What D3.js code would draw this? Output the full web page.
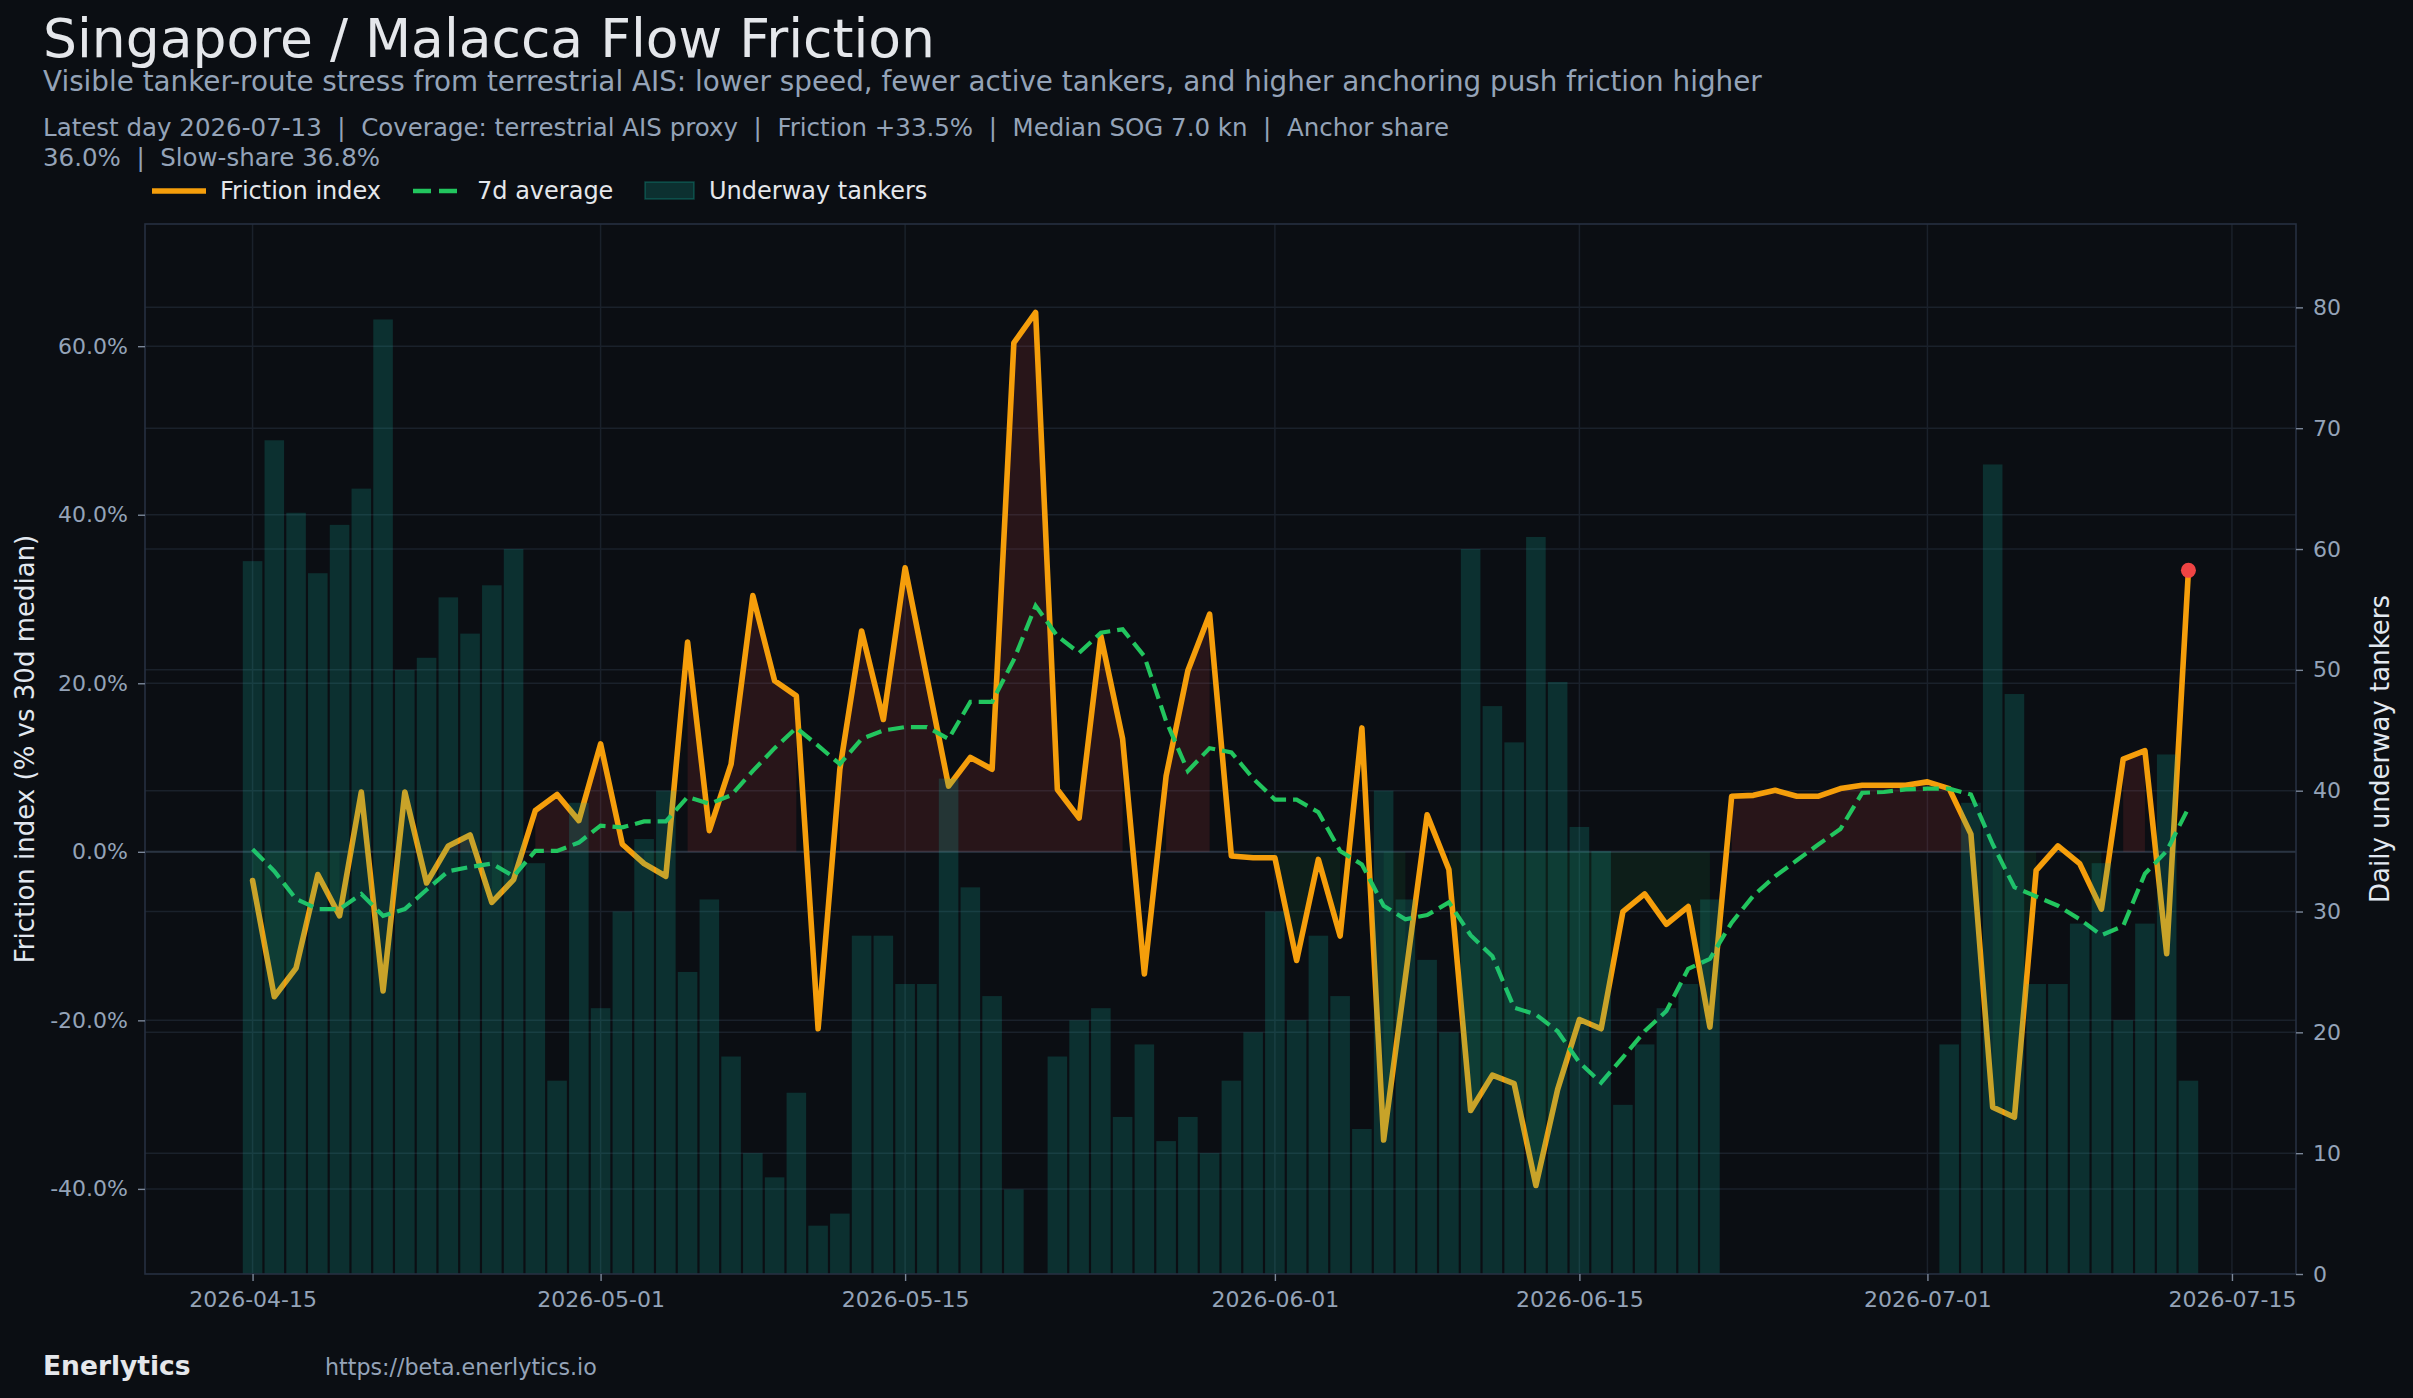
<!DOCTYPE html>
<html><head><meta charset="utf-8">
<script src="https://cdn.jsdelivr.net/npm/d3@7"></script>
<style>
html,body{margin:0;padding:0;background:#0b0e13;}
svg{display:block;}
text{font-family:"DejaVu Sans",sans-serif;}
</style></head><body>
<svg id="chart" width="2413" height="1398"></svg>
<script>
// ---------------- DATA ----------------
const startDate = "2026-04-15";
const endDate = "2026-07-13";
// Friction index, % vs 30d median (one value per day)
const friction = [
  -3.4, -17.2, -13.8, -2.7, -7.6, 7.1, -16.5, 7.1, -3.7, 0.7,
  2.0, -6.0, -3.3, 4.9, 6.8, 3.7, 12.8, 0.9, -1.4, -2.9,
  24.9, 2.5, 10.4, 30.4, 20.3, 18.5, -21.0, 9.8, 26.2, 15.7,
  33.7, 20.7, 7.8, 11.2, 9.8, 60.4, 64.0, 7.4, 4.0, 25.6,
  13.4, -14.5, 9.0, 21.5, 28.2, -0.5, -0.7, -0.7, -12.9, -0.9,
  -10.0, 14.7, -34.2, -14.9, 4.4, -2.1, -30.7, -26.5, -27.5, -39.6,
  -28.2, -19.9, -21.0, -7.1, -5.0, -8.6, -6.5, -20.8, 6.6, 6.7,
  7.3, 6.6, 6.6, 7.5, 7.9, 7.9, 7.9, 8.3, 7.5, 2.1,
  -30.3, -31.5, -2.2, 0.7, -1.4, -6.8, 11.0, 12.0, -12.1, 33.4
];
// 7-day average of friction
const avg7 = [
  0.3, -2.3, -5.6, -6.8, -6.8, -5.0, -7.6, -6.8, -4.5, -2.3,
  -1.8, -1.4, -2.9, 0.1, 0.1, 1.1, 3.1, 2.9, 3.6, 3.6,
  6.5, 5.7, 6.7, 9.6, 12.3, 14.7, 12.6, 10.4, 13.4, 14.4,
  14.8, 14.8, 13.4, 17.8, 17.8, 22.8, 29.2, 25.6, 23.6, 26.0,
  26.4, 23.2, 15.5, 9.6, 12.3, 11.8, 8.7, 6.2, 6.2, 4.7,
  0.1, -1.5, -6.4, -8.0, -7.5, -6.0, -9.9, -12.4, -18.5, -19.3,
  -21.3, -25.0, -27.4, -24.4, -21.3, -18.9, -13.9, -12.7, -8.4, -5.2,
  -2.9, -1.0, 0.9, 2.7, 7.0, 7.1, 7.4, 7.5, 7.5, 6.8,
  0.9, -4.2, -5.3, -6.4, -8.0, -9.9, -8.8, -2.6, 0.1, 5.2
];
// Daily underway tankers (null = no data)
const tankers = [
  59, 69, 63, 58, 62, 65, 79, 50, 51, 56,
  53, 57, 60, 34, 16, 39, 22, 30, 36, 40,
  25, 31, 18, 10, 8, 15, 4, 5, 28, 28,
  24, 24, 41, 32, 23, 7, null, 18, 21, 22,
  13, 19, 11, 13, 10, 16, 20, 30, 21, 28,
  23, 12, 40, 31, 26, 20, 60, 47, 44, 61,
  49, 37, 35, 14, 19, 22, 24, 31, null, null,
  null, null, null, null, null, null, null, null, 19, 39,
  67, 48, 24, 24, 29, 34, 21, 29, 43, 16
];
const xTickLabels = ["2026-04-15","2026-05-01","2026-05-15","2026-06-01","2026-06-15","2026-07-01","2026-07-15"];
const leftTicks = [-40, -20, 0, 20, 40, 60];
const rightTicks = [0, 10, 20, 30, 40, 50, 60, 70, 80];

const titleText = "Singapore / Malacca Flow Friction";
const subtitleText = "Visible tanker-route stress from terrestrial AIS: lower speed, fewer active tankers, and higher anchoring push friction higher";
const infoLines = [
  "Latest day 2026-07-13  |  Coverage: terrestrial AIS proxy  |  Friction +33.5%  |  Median SOG 7.0 kn  |  Anchor share",
  "36.0%  |  Slow-share 36.8%"
];
const legendLabels = ["Friction index", "7d average", "Underway tankers"];

// ---------------- CHART ----------------
const W = 2413, H = 1398;
const L = 145, R = 2296, T = 224, B = 1274;
const DAY = 864e5;
const parse = d3.utcParse("%Y-%m-%d");
const d0 = parse(startDate);
const dates = d3.utcDay.range(d0, d3.utcDay.offset(parse(endDate), 1));
const rows = dates.map((d, i) => ({date: d, f: friction[i], a: avg7[i], t: tankers[i]}));

const x = d3.scaleUtc()
  .domain([new Date(+d0 - 4.945 * DAY), new Date(+d0 + 93.945 * DAY)])
  .range([L, R]);
const yL = d3.scaleLinear().domain([-50.1, 74.5]).range([B, T]);
const yR = d3.scaleLinear().domain([0, 86.9]).range([B, T]);

const svg = d3.select("#chart");
svg.append("rect").attr("width", W).attr("height", H).attr("fill", "#0b0e13");

const gridColor = "#1a212b";
const xTickDates = xTickLabels.map(parse);

// grid
const grid = svg.append("g");
grid.selectAll(".vg").data(xTickDates).join("line")
  .attr("x1", d => x(d)).attr("x2", d => x(d)).attr("y1", T).attr("y2", B)
  .attr("stroke", gridColor).attr("stroke-width", 1.5);
grid.selectAll(".hgl").data(leftTicks).join("line")
  .attr("x1", L).attr("x2", R).attr("y1", d => yL(d)).attr("y2", d => yL(d))
  .attr("stroke", gridColor).attr("stroke-width", 1.5);
grid.selectAll(".hgr").data(rightTicks.filter(v => v > 0)).join("line")
  .attr("x1", L).attr("x2", R).attr("y1", d => yR(d)).attr("y2", d => yR(d))
  .attr("stroke", gridColor).attr("stroke-width", 1.5);

// zero line
svg.append("line").attr("x1", L).attr("x2", R).attr("y1", yL(0)).attr("y2", yL(0))
  .attr("stroke", "#2a3442").attr("stroke-width", 2);

// fills
const areaPos = d3.area().defined(d => d.f >= 0)
  .x(d => x(d.date)).y0(yL(0)).y1(d => yL(d.f));
const areaNeg = d3.area().defined(d => d.f < 0)
  .x(d => x(d.date)).y0(yL(0)).y1(d => yL(d.f));
svg.append("path").datum(rows).attr("d", areaPos).attr("fill", "rgba(239,68,68,0.13)");
svg.append("path").datum(rows).attr("d", areaNeg).attr("fill", "rgba(34,197,94,0.09)");

// lines
const lineF = d3.line().x(d => x(d.date)).y(d => yL(d.f));
const lineA = d3.line().x(d => x(d.date)).y(d => yL(d.a));
svg.append("path").datum(rows).attr("d", lineF).attr("fill", "none")
  .attr("stroke", "#f59e0b").attr("stroke-width", 5.6)
  .attr("stroke-linejoin", "round").attr("stroke-linecap", "round");
svg.append("path").datum(rows).attr("d", lineA).attr("fill", "none")
  .attr("stroke", "#22c55e").attr("stroke-width", 4.2)
  .attr("stroke-dasharray", "16,7");
const last = rows[rows.length - 1];
svg.append("circle").attr("cx", x(last.date)).attr("cy", yL(last.f)).attr("r", 7.5)
  .attr("fill", "#ef4444");

// bars (twin axis, on top, translucent)
const barW = x(new Date(+d0 + 0.9 * DAY)) - x(d0);
svg.append("g").selectAll("rect").data(rows.filter(d => d.t != null)).join("rect")
  .attr("x", d => x(d.date) - barW / 2)
  .attr("width", barW)
  .attr("y", d => yR(d.t))
  .attr("height", d => yR(0) - yR(d.t))
  .attr("fill", "rgba(20,184,166,0.2)");

// spines
svg.append("rect").attr("x", L).attr("y", T).attr("width", R - L).attr("height", B - T)
  .attr("fill", "none").attr("stroke", "#263041").attr("stroke-width", 1.6);

// axes
const tickColor = "#94a3b8";
const gx = svg.append("g").attr("transform", `translate(0,${B})`)
  .call(d3.axisBottom(x).tickValues(xTickDates).tickFormat(d3.utcFormat("%Y-%m-%d")).tickSize(7).tickPadding(10));
const gl = svg.append("g").attr("transform", `translate(${L},0)`)
  .call(d3.axisLeft(yL).tickValues(leftTicks).tickFormat(d => d.toFixed(1) + "%").tickSize(7).tickPadding(10));
const gr = svg.append("g").attr("transform", `translate(${R},0)`)
  .call(d3.axisRight(yR).tickValues(rightTicks).tickFormat(d3.format("d")).tickSize(7).tickPadding(10));
[gx, gl, gr].forEach(g => {
  g.select(".domain").remove();
  g.selectAll(".tick line").attr("stroke", "#7b8799").attr("stroke-width", 1.4);
  g.selectAll(".tick text").attr("fill", tickColor).attr("font-size", 22)
    .attr("font-family", "DejaVu Sans");
});
gx.selectAll(".tick text").attr("dy", "0.71em");

// axis labels
svg.append("text").attr("transform", `translate(34,${(T + B) / 2}) rotate(-90)`)
  .attr("text-anchor", "middle").attr("font-size", 26).attr("fill", "#e2e8f0")
  .text("Friction index (% vs 30d median)");
svg.append("text").attr("transform", `translate(2389,${(T + B) / 2}) rotate(-90)`)
  .attr("text-anchor", "middle").attr("font-size", 26).attr("fill", "#e2e8f0")
  .text("Daily underway tankers");

// titles
svg.append("text").attr("x", 43).attr("y", 57).attr("font-size", 53.5).attr("fill", "#e5e7eb").text(titleText);
svg.append("text").attr("x", 43).attr("y", 91).attr("font-size", 27.8).attr("fill", "#94a3b8").text(subtitleText);
infoLines.forEach((s, i) => {
  svg.append("text").attr("x", 43).attr("y", 136 + i * 29.5).attr("font-size", 24.5)
    .attr("fill", "#94a3b8").attr("xml:space", "preserve").style("white-space", "pre").text(s);
});

// legend
const lg = svg.append("g");
const ly = 191;
lg.append("line").attr("x1", 152).attr("x2", 206).attr("y1", ly).attr("y2", ly)
  .attr("stroke", "#f59e0b").attr("stroke-width", 5.5);
lg.append("text").attr("x", 220).attr("y", 199).attr("font-size", 24).attr("fill", "#e5e7eb").text(legendLabels[0]);
lg.append("line").attr("x1", 413).attr("x2", 458).attr("y1", ly).attr("y2", ly)
  .attr("stroke", "#22c55e").attr("stroke-width", 4.3).attr("stroke-dasharray", "18,8");
lg.append("text").attr("x", 477).attr("y", 199).attr("font-size", 24).attr("fill", "#e5e7eb").text(legendLabels[1]);
lg.append("rect").attr("x", 645).attr("y", 182).attr("width", 49).attr("height", 17)
  .attr("fill", "rgba(20,184,166,0.2)").attr("stroke", "rgba(20,184,166,0.3)").attr("stroke-width", 1.5);
lg.append("text").attr("x", 709).attr("y", 199).attr("font-size", 24).attr("fill", "#e5e7eb").text(legendLabels[2]);

// footer
svg.append("text").attr("x", 43).attr("y", 1375).attr("font-size", 26.5).attr("font-weight", "bold")
  .attr("fill", "#e5e7eb").text("Enerlytics");
svg.append("text").attr("x", 325).attr("y", 1375).attr("font-size", 22.2)
  .attr("fill", "#94a3b8").text("https://beta.enerlytics.io");
</script>
</body></html>
